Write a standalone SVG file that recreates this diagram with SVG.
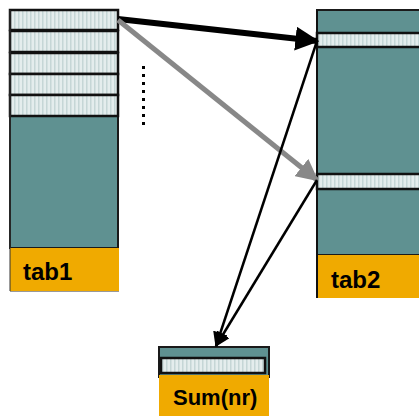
<svg xmlns="http://www.w3.org/2000/svg" width="419" height="416" viewBox="0 0 419 416">
<defs>
<style>
.teal{fill:#5f9191;stroke:#1a1a1a;stroke-width:2}
.row{fill:url(#stripes);stroke:#111;stroke-width:2.5}
.lab{fill:#f0aa00}
.txt{font-family:"Liberation Sans",Arial,sans-serif;font-weight:bold;font-size:24px;fill:#000}
.thin{stroke:#000;stroke-width:2.5;fill:none}
</style>
<pattern id="stripes" width="4" height="4" patternUnits="userSpaceOnUse">
<rect width="4" height="4" fill="#e4eded"/>
<rect x="2" width="1.5" height="4" fill="#c5d6d6"/>
</pattern>
<marker id="ahB" markerWidth="4" markerHeight="4" refX="3.6" refY="2" orient="auto" markerUnits="strokeWidth"><path d="M0,0 L4,2 L0,4 z" fill="#000"/></marker>
<marker id="ahG" markerWidth="4.4" markerHeight="4.4" refX="4" refY="2.2" orient="auto" markerUnits="strokeWidth"><path d="M0,0 L4.4,2.2 L0,4.4 z" fill="#888"/></marker>
<marker id="ahT" markerWidth="6" markerHeight="6" refX="5.5" refY="3" orient="auto" markerUnits="strokeWidth"><path d="M0,0 L6,3 L0,6 z" fill="#000"/></marker>
</defs>
<g id="tab1">
<rect class="teal" x="10" y="10" width="108" height="238"/>
<rect class="row" x="10" y="10" width="108" height="20"/>
<rect class="row" x="10" y="31" width="108" height="21"/>
<rect class="row" x="10" y="53" width="108" height="21"/>
<rect class="row" x="10" y="74" width="108" height="21"/>
<rect class="row" x="10" y="95" width="108" height="21"/>
<rect class="lab" x="10" y="248" width="109" height="43"/>
<line x1="10" y1="291.5" x2="119" y2="291.5" stroke="#999" stroke-width="1"/>
<line x1="10" y1="10" x2="10" y2="291" stroke="#333" stroke-width="1"/>
<text class="txt" x="23" y="280">tab1</text>
</g>
<g id="dots" fill="#000">
<rect x="142" y="66" width="3" height="3"/><rect x="142" y="74" width="3" height="3"/>
<rect x="142" y="82" width="3" height="3"/><rect x="142" y="90" width="3" height="3"/>
<rect x="142" y="98" width="3" height="3"/><rect x="142" y="106" width="3" height="3"/>
<rect x="142" y="114" width="3" height="3"/><rect x="142" y="122" width="3" height="3"/>
</g>
<g id="tab2">
<rect class="teal" x="317" y="10" width="110" height="245"/>
<rect class="row" x="317" y="33" width="110" height="14"/>
<rect class="row" x="317" y="174" width="110" height="15"/>
<rect class="lab" x="317" y="255" width="110" height="43"/>
<line x1="317" y1="10" x2="317" y2="298" stroke="#111" stroke-width="2"/>
<text class="txt" x="331" y="288">tab2</text>
</g>
<g id="sum">
<rect class="teal" x="159" y="347" width="110" height="30"/>
<rect class="row" x="161" y="358" width="104" height="15"/>
<rect class="lab" x="159" y="375" width="110" height="41"/>
<text class="txt" x="173" y="405" style="font-size:22px">Sum(nr)</text>
</g>
<g id="connectors">
<line x1="118" y1="19" x2="317" y2="41" stroke="#000" stroke-width="6" marker-end="url(#ahB)"/>
<line x1="118" y1="20" x2="317" y2="180" stroke="#888" stroke-width="5" marker-end="url(#ahG)"/>
<line class="thin" x1="317" y1="41" x2="216" y2="346" marker-end="url(#ahT)"/>
<line class="thin" x1="317" y1="180" x2="216" y2="346" marker-end="url(#ahT)"/>
</g>
</svg>
